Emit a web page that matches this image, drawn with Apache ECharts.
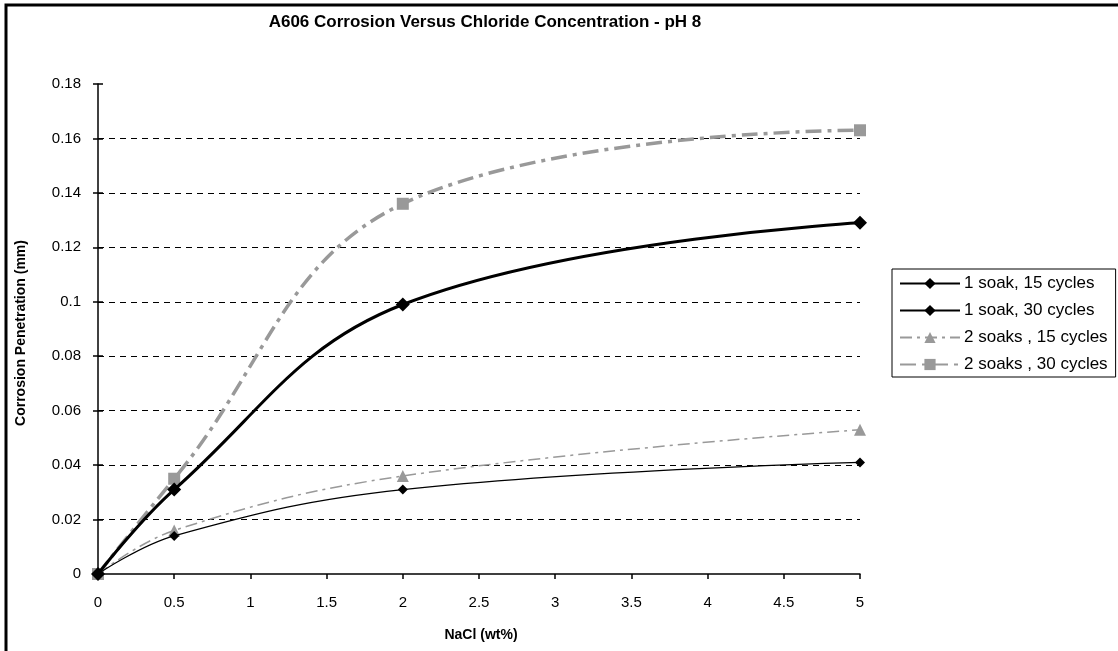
<!DOCTYPE html>
<html>
<head>
<meta charset="utf-8">
<style>
  html, body { margin: 0; padding: 0; background: #fff; }
  #chart { width: 1118px; height: 651px; }
</style>
<script src="https://cdn.jsdelivr.net/npm/echarts@6/dist/echarts.min.js"></script>
</head>
<body>
<div id="chart"></div>
<script>
// NaCl concentration (wt %) at which each specimen set was measured
const nacl = [0, 0.5, 2, 5];

// Corrosion penetration (mm)
const soak1Cycles15 = [0, 0.014, 0.031, 0.041];
const soak1Cycles30 = [0, 0.031, 0.099, 0.129];
const soak2Cycles15 = [0, 0.016, 0.036, 0.053];
const soak2Cycles30 = [0, 0.035, 0.136, 0.163];

// Axis ticks
const xTicks = [0, 0.5, 1, 1.5, 2, 2.5, 3, 3.5, 4, 4.5, 5];
const yTicks = ['0', '0.02', '0.04', '0.06', '0.08', '0.1', '0.12', '0.14', '0.16', '0.18'];

const FONT = 'Liberation Sans, Arial, sans-serif';
const GRAY = '#999999';

const pairs = ys => nacl.map((x, i) => [x, ys[i]]);

const chart = echarts.init(document.getElementById('chart'), null, { renderer: 'canvas' });

const yMin = Number(yTicks[0]);
const yMax = Number(yTicks[yTicks.length - 1]);
const yStep = Number(yTicks[1]) - Number(yTicks[0]);

const baseY = {
  type: 'value',
  min: yMin,
  max: yMax,
  interval: yStep,
  position: 'left'
};

chart.setOption({
  backgroundColor: '#ffffff',
  animation: false,
  textStyle: { fontFamily: FONT },
  grid: { left: 98, right: 258, top: 84, bottom: 77, containLabel: false },
  graphic: [
    {
      type: 'rect',
      shape: { x: 6, y: 5, width: 1140, height: 680 },
      style: { fill: null, stroke: '#000', lineWidth: 3 },
      silent: true
    },
    {
      type: 'text',
      x: 485, y: 22,
      style: {
        text: 'A606 Corrosion Versus Chloride Concentration - pH 8',
        font: 'bold 17px ' + FONT,
        fill: '#000',
        align: 'center',
        verticalAlign: 'middle'
      }
    },
    {
      type: 'text',
      x: 481, y: 635,
      style: {
        text: 'NaCl (wt%)',
        font: 'bold 14px ' + FONT,
        fill: '#000',
        align: 'center',
        verticalAlign: 'middle'
      }
    },
    {
      type: 'text',
      x: 21, y: 333,
      rotation: Math.PI / 2,
      style: {
        text: 'Corrosion Penetration (mm)',
        font: 'bold 14px ' + FONT,
        fill: '#000',
        align: 'center',
        verticalAlign: 'middle'
      }
    }
  ],
  legend: {
    orient: 'vertical',
    left: 892,
    top: 269,
    padding: [6, 8, 4, 7],
    itemGap: 10,
    itemWidth: 60,
    itemHeight: 14,
    borderColor: '#000',
    borderWidth: 1,
    textStyle: { fontFamily: FONT, fontSize: 17, color: '#000', padding: [0, 0, 0, -1] },
    data: ['1 soak, 15 cycles', '1 soak, 30 cycles', '2 soaks , 15 cycles', '2 soaks , 30 cycles']
  },
  xAxis: {
    type: 'value',
    min: xTicks[0],
    max: xTicks[xTicks.length - 1],
    interval: xTicks[1] - xTicks[0],
    axisLine: { show: true, lineStyle: { color: '#000', width: 1.5 } },
    axisTick: { show: true, inside: false, length: 5, lineStyle: { color: '#000', width: 1.5 } },
    axisLabel: { color: '#000', fontSize: 15, fontFamily: FONT, margin: 21 },
    splitLine: { show: false }
  },
  yAxis: [
    Object.assign({}, baseY, {
      axisLine: { show: true, lineStyle: { color: '#000', width: 1.5 } },
      axisTick: { show: true, inside: false, length: 5, lineStyle: { color: '#000', width: 1.5 } },
      axisLabel: {
        color: '#000', fontSize: 15, fontFamily: FONT, margin: 17,
        formatter: (v, i) => yTicks[i]
      },
      splitLine: {
        show: true,
        showMinLine: false,
        showMaxLine: false,
        lineStyle: { color: '#000', width: 1, type: [6, 5] }
      }
    }),
    Object.assign({}, baseY, {
      axisLine: { show: false },
      axisTick: { show: true, inside: true, length: 5, lineStyle: { color: '#000', width: 1.5 } },
      axisLabel: { show: false },
      splitLine: { show: false }
    })
  ],
  series: [
    {
      name: '2 soaks , 15 cycles',
      type: 'line',
      smooth: 0.4,
      data: pairs(soak2Cycles15),
      symbol: 'triangle',
      symbolSize: 12,
      z: 2,
      itemStyle: { color: GRAY },
      lineStyle: { color: GRAY, width: 1.5, type: [12, 5, 3, 5] }
    },
    {
      name: '2 soaks , 30 cycles',
      type: 'line',
      smooth: 0.4,
      data: pairs(soak2Cycles30),
      symbol: 'rect',
      symbolSize: 12,
      z: 2,
      itemStyle: { color: GRAY },
      lineStyle: { color: GRAY, width: 3.5, type: [16, 6, 4, 6] }
    },
    {
      name: '1 soak, 15 cycles',
      type: 'line',
      smooth: 0.4,
      data: pairs(soak1Cycles15),
      symbol: 'diamond',
      symbolSize: 10,
      z: 3,
      itemStyle: { color: '#000' },
      lineStyle: { color: '#000', width: 1.2 }
    },
    {
      name: '1 soak, 30 cycles',
      type: 'line',
      smooth: 0.4,
      data: pairs(soak1Cycles30),
      symbol: 'diamond',
      symbolSize: 14,
      z: 3,
      itemStyle: { color: '#000' },
      lineStyle: { color: '#000', width: 3 }
    }
  ]
});
</script>
</body>
</html>
